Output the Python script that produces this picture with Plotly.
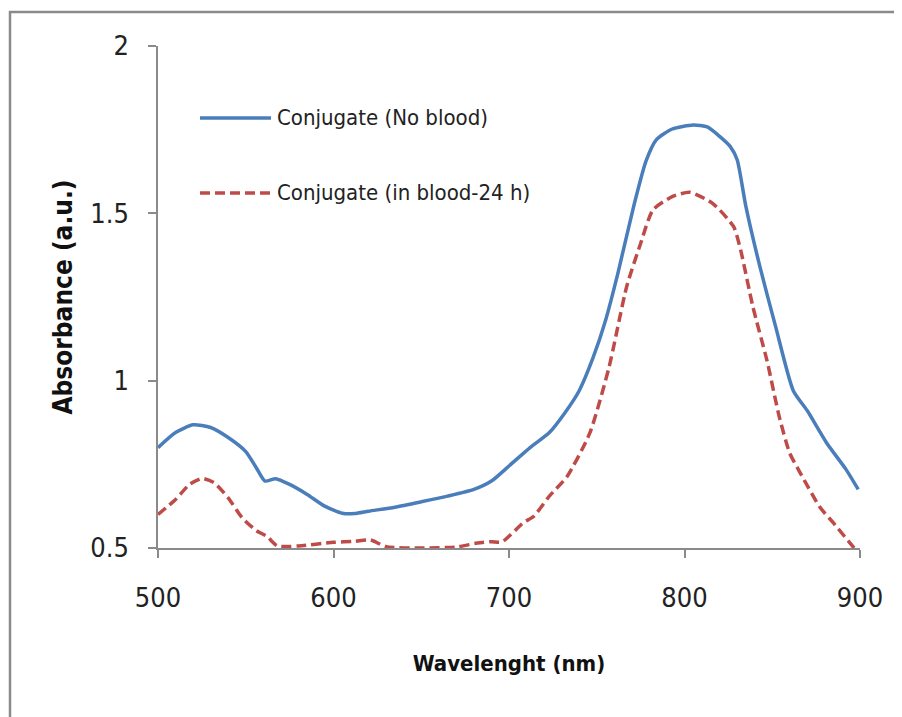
import plotly.graph_objects as go

# Absorbance spectra
wl_blue = [500, 510, 520, 530, 540, 550, 556, 561, 567, 575, 585, 595, 605, 612, 620,
           635, 650, 665, 680, 690, 700, 712, 723, 732, 740, 748, 755, 762, 771, 778,
           784, 793, 805, 813, 820, 826, 830, 835, 843, 852, 862, 870, 881, 892, 899]
abs_blue = [0.80, 0.845, 0.868, 0.86, 0.83, 0.788, 0.74, 0.70, 0.707, 0.69, 0.66, 0.625,
            0.604, 0.603, 0.61, 0.622, 0.638, 0.655, 0.675, 0.70, 0.745, 0.80, 0.845,
            0.905, 0.97, 1.07, 1.18, 1.32, 1.52, 1.655, 1.72, 1.752, 1.764, 1.758, 1.73,
            1.70, 1.66, 1.52, 1.34, 1.16, 0.97, 0.91, 0.814, 0.735, 0.675]

wl_red = [500, 510, 518, 525, 532, 540, 548, 556, 562, 568, 580, 600, 612, 621, 630,
          650, 670, 682, 690, 696, 708, 714, 723, 733, 746, 757, 767, 775, 782, 793,
          803, 816, 828, 832, 839, 847, 854, 860, 866, 877, 885, 896, 900]
abs_red = [0.60, 0.645, 0.69, 0.708, 0.695, 0.65, 0.59, 0.552, 0.535, 0.506, 0.506,
           0.517, 0.52, 0.524, 0.504, 0.50, 0.503, 0.515, 0.519, 0.518, 0.575, 0.594,
           0.655, 0.713, 0.843, 1.04, 1.28, 1.41, 1.51, 1.55, 1.563, 1.53, 1.46, 1.39,
           1.22, 1.06, 0.892, 0.783, 0.724, 0.623, 0.574, 0.504, 0.48]

names = ["Conjugate (No blood)", "Conjugate (in blood-24 h)"]
x_ticks = [500, 600, 700, 800, 900]
y_ticks = [0.5, 1, 1.5, 2]
y_ticklabels = ["0.5", "1", "1.5", "2"]

BLUE = "#4A7EBB"
RED = "#BE4B48"
DASH = "10px,5px"
FONT = "Liberation Sans Narrow, DejaVu Sans Condensed, Arial Narrow, sans-serif"

# page body adds an 8px offset, so the figure is shifted up/left to compensate
OFF = 8
W, H = 902, 717
L, T = 158 - OFF, 46 - OFF
pw, ph = 702, 502
R, B = W - L - pw, H - T - ph


def px(x):
    return (x - OFF - L) / pw


def py(y):
    return (T + ph - (y - OFF)) / ph


fig = go.Figure()
fig.add_trace(go.Scatter(x=wl_blue, y=abs_blue, mode="lines", name=names[0],
                         line=dict(color=BLUE, width=3.5, shape="spline", smoothing=0.6)))
fig.add_trace(go.Scatter(x=wl_red, y=abs_red, mode="lines", name=names[1],
                         line=dict(color=RED, width=3.5, dash=DASH, shape="spline", smoothing=0.6)))

# hand drawn legend, long line samples like the original
legend_rows = [(118, BLUE, "solid"), (193, RED, DASH)]
shapes = []
annotations = []
for (ypix, col, dash), nm in zip(legend_rows, names):
    shapes.append(dict(type="line", xref="paper", yref="paper",
                       x0=px(200), x1=px(271), y0=py(ypix), y1=py(ypix),
                       line=dict(color=col, width=3.5, dash=dash)))
    annotations.append(dict(xref="paper", yref="paper", x=px(275), y=py(ypix),
                            xanchor="left", yanchor="middle", showarrow=False,
                            text=nm, font=dict(size=22, color="#222", family=FONT)))

# outer frame of the figure (only top and left visible)
shapes.append(dict(type="rect", xref="paper", yref="paper",
                   x0=px(10), x1=px(930), y0=py(12), y1=py(760),
                   line=dict(color="#8a8a8a", width=2.5)))

fig.update_layout(
    width=W, height=H,
    margin=dict(l=L, r=R, t=T, b=B),
    plot_bgcolor="white", paper_bgcolor="white",
    showlegend=False,
    shapes=shapes,
    annotations=annotations,
    font=dict(family=FONT, color="#222"),
    xaxis=dict(range=[500, 900], tickvals=x_ticks, showgrid=False, zeroline=False,
               showline=True, linecolor="#8a8a8a", linewidth=1.5,
               ticks="outside", ticklen=8, tickcolor="#8a8a8a", tickwidth=1.5,
               tickfont=dict(size=27, family=FONT, color="#222"),
               ticklabelstandoff=17,
               title=dict(text="<b>Wavelenght (nm)</b>", standoff=43,
                          font=dict(size=22, family=FONT, color="#111"))),
    yaxis=dict(range=[0.5, 2], tickvals=y_ticks, ticktext=y_ticklabels, showgrid=False,
               zeroline=False, showline=True, linecolor="#8a8a8a", linewidth=1.5,
               ticks="outside", ticklen=8, tickcolor="#8a8a8a", tickwidth=1.5,
               tickfont=dict(size=27, family=FONT, color="#222"),
               ticklabelstandoff=14,
               title=dict(text="<b>Absorbance (a.u.)</b>", standoff=10,
                          font=dict(size=26, family=FONT, color="#111"))),
)

fig.write_html("out.html")
